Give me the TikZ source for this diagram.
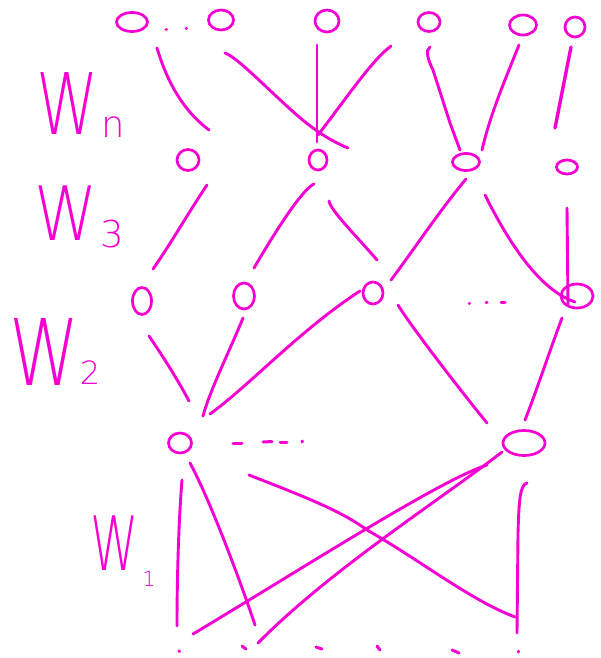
\documentclass[tikz,border=0pt]{standalone}
\usepackage{fontspec}
\newfontfamily\handfont{DejaVu Sans ExtraLight}
\usetikzlibrary{shapes.geometric}
\definecolor{pen}{RGB}{245,0,210}
\begin{document}
\begin{tikzpicture}[x=1pt,y=-1pt,
  nd/.style={ellipse,draw=pen,line width=2.7pt,inner sep=0pt},
  stroke/.style={draw=pen,line width=2.9pt,line cap=round,line join=round},
  dotmark/.style={draw=pen,line width=3pt,line cap=round},
  lbl/.style={text=pen,inner sep=0pt}]
\useasboundingbox (0,0) rectangle (600,658);

% ---- labels
\node[lbl,font=\handfont\fontsize{85}{85}\selectfont] (wn) at (68,104) {\scalebox{0.74}[1]{W}};
\node[lbl,font=\handfont\fontsize{37}{37}\selectfont] (wnsub) at (113,127) {n};
\node[lbl,font=\handfont\fontsize{75}{75}\selectfont] (w3) at (66,213) {\scalebox{0.85}[1]{W}};
\node[lbl,font=\handfont\fontsize{37}{37}\selectfont] (w3sub) at (112,234) {3};
\node[lbl,font=\handfont\fontsize{92}{92}\selectfont] (w2) at (45,352) {\scalebox{0.77}[1]{W}};
\node[lbl,font=\handfont\fontsize{32}{32}\selectfont] (w2sub) at (90,373) {2};
\node[lbl,font=\handfont\fontsize{75}{75}\selectfont] (w1) at (115,543) {\scalebox{0.65}[1]{W}};
\node[lbl,font=\handfont\fontsize{21}{21}\selectfont] (w1sub) at (149,579) {1};

% ---- top row
\node[nd,minimum width=31pt,minimum height=19pt] (a1) at (132,22) {};
\node[nd,minimum width=25pt,minimum height=20pt] (a2) at (221,20) {};
\node[nd,minimum width=24pt,minimum height=22pt] (a3) at (327,21) {};
\node[nd,minimum width=22pt,minimum height=19pt] (a4) at (429,22) {};
\node[nd,minimum width=27pt,minimum height=20pt] (a5) at (523,25) {};
\node[nd,minimum width=20pt,minimum height=20pt] (a6) at (575,27) {};
\coordinate (td1) at (166,30); \coordinate (td2) at (186,29);
\draw[dotmark] (td1) -- ++(0.5,0); \draw[dotmark] (td2) -- ++(0.5,0);

% ---- second row
\node[nd,minimum width=22pt,minimum height=21pt] (b1) at (188,160) {};
\node[nd,minimum width=18pt,minimum height=20pt] (b2) at (318,160) {};
\node[nd,minimum width=27pt,minimum height=17pt] (b3) at (466,162) {};
\node[nd,minimum width=21pt,minimum height=14pt] (b4) at (567,167) {};

% ---- third row
\node[nd,minimum width=19pt,minimum height=27pt] (c1) at (142,301) {};
\node[nd,minimum width=21pt,minimum height=26pt] (c2) at (244,296) {};
\node[nd,minimum width=20pt,minimum height=22pt] (c3) at (373,293) {};
\node[nd,minimum width=32pt,minimum height=24pt] (c4) at (577,296) {};
\coordinate (md1) at (469,303); \coordinate (md2) at (486,302); \coordinate (md3) at (501,302);
\draw[dotmark] (md1) -- ++(0.5,0); \draw[dotmark] (md2) -- ++(1,0); \draw[dotmark] (md3) -- ++(4,0);

% ---- fourth row
\node[nd,minimum width=23pt,minimum height=20pt] (d1) at (180,443) {};
\node[nd,minimum width=42pt,minimum height=25pt] (d2) at (524,443) {};
\coordinate (rd1) at (233,443); \coordinate (rd2) at (263,442); \coordinate (rd3) at (280,442); \coordinate (rd4) at (302,442);
\draw[dotmark] (rd1) -- ++(9,0); \draw[dotmark] (rd2) -- ++(9,-0.5); \draw[dotmark] (rd3) -- ++(7,0); \draw[dotmark] (rd4) -- ++(0.5,-1);

% ---- bottom marks
\coordinate (x1) at (179,651); \coordinate (x2) at (242,646); \coordinate (x3) at (316,647);
\coordinate (x4) at (377,646); \coordinate (x5) at (452,650); \coordinate (x6) at (518,651);
\draw[dotmark] (x1) -- ++(0.5,0.5);
\draw[dotmark] (x2) -- ++(4,3);
\draw[dotmark] (x3) -- ++(6,2);
\draw[dotmark] (x4) -- ++(3,4);
\draw[dotmark] (x5) -- ++(7,3);
\draw[dotmark] (x6) -- ++(0,1);

% ---- strokes W_n
\draw[stroke] (157,48) .. controls (168,85) and (185,112) .. (209,130);
\draw[stroke] (225,53) .. controls (240,58) and (285,108) .. (313,128) .. controls (325,137) and (338,144) .. (348,148);
\draw[stroke] (317,45) -- (317,142);
\draw[stroke] (391,46) .. controls (372,60) and (345,100) .. (318,135);
\draw[stroke] (430,47) .. controls (425,50) and (428,60) .. (433,70) -- (450,123) -- (460,150);
\draw[stroke] (519,45) .. controls (505,80) and (490,115) .. (482,150);
\draw[stroke,line width=3.4pt] (571,47) -- (555,128);

% ---- strokes W_3
\draw[stroke] (207,185) .. controls (190,210) and (170,245) .. (153,269);
\draw[stroke] (314,184) .. controls (305,188) and (285,215) .. (254,268);
\draw[stroke] (329,201) .. controls (330,210) and (360,240) .. (377,260);
\draw[stroke] (466,179) .. controls (440,210) and (410,255) .. (391,280);
\draw[stroke] (485,195) .. controls (510,245) and (540,290) .. (575,302);
\draw[stroke] (567,208) -- (568,305);

% ---- strokes W_2
\draw[stroke] (149,336) .. controls (162,355) and (178,380) .. (189,401);
\draw[stroke] (243,318) .. controls (230,350) and (210,390) .. (203,416);
\draw[stroke] (360,291) .. controls (300,330) and (250,385) .. (210,414);
\draw[stroke] (398,305) .. controls (410,325) and (460,390) .. (487,423);
\draw[stroke] (562,318) .. controls (550,350) and (535,395) .. (525,420);

% ---- strokes W_1
\draw[stroke] (182,480) .. controls (178,530) and (177,590) .. (177,626);
\draw[stroke] (190,463) .. controls (210,500) and (240,580) .. (255,625);
\draw[stroke] (249,475) .. controls (300,495) and (340,510) .. (367,530) .. controls (420,560) and (470,600) .. (515,617);
\draw[stroke] (487,465) .. controls (440,480) and (300,570) .. (193,634);
\draw[stroke] (502,452) .. controls (440,500) and (330,570) .. (258,643);
\draw[stroke] (527,483) .. controls (520,485) and (519,500) .. (518,533) -- (517,633);
\end{tikzpicture}
\end{document}
